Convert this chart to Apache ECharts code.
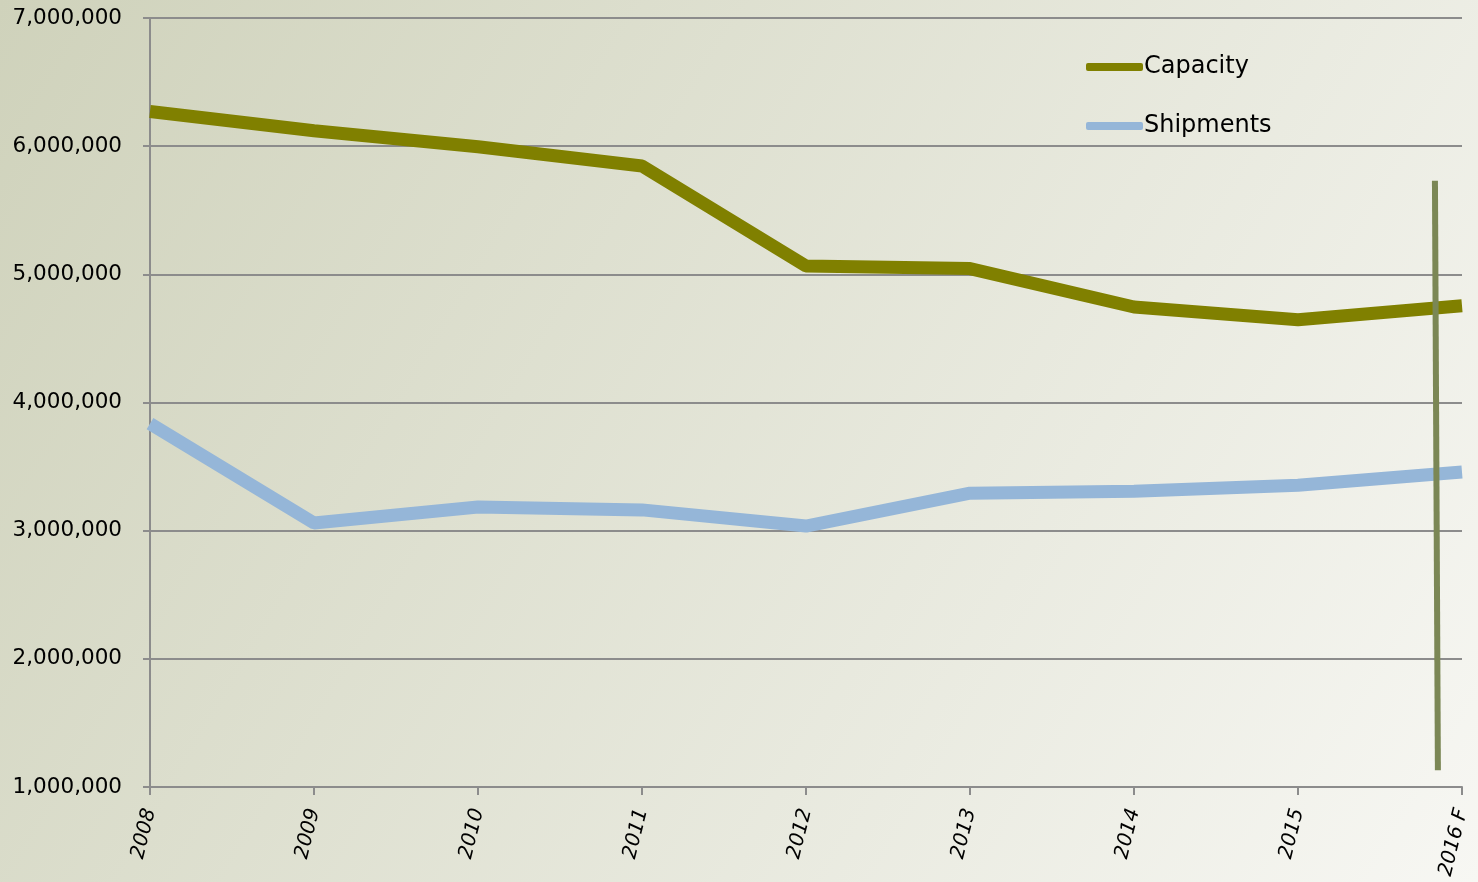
<!DOCTYPE html>
<html>
<head>
<meta charset="utf-8">
<script src="https://cdn.jsdelivr.net/npm/echarts@6/dist/echarts.min.js"></script>
<style>
html,body{margin:0;padding:0;}
#chart{width:1478px;height:882px;}
</style>
</head>
<body>
<div id="chart"></div>
<script>
const categories = ['2008','2009','2010','2011','2012','2013','2014','2015','2016 F'];
const capacity = [6270000, 6120000, 5995000, 5845000, 5065000, 5045000, 4745000, 4645000, 4755000];
const shipments = [3835000, 3060000, 3185000, 3162000, 3036000, 3292000, 3308000, 3355000, 3458000];
// forecast divider line, in (category position, value) coordinates
const dividerLine = [[7.835, 5730000], [7.853, 1130000]];
const yTicks = {min: 1000000, max: 7000000, interval: 1000000};

const chart = echarts.init(document.getElementById('chart'));
const fontFamily = '"DejaVu Sans", Verdana, sans-serif';
chart.setOption({
  backgroundColor: {
    type: 'linear', x: 0, y: 0, x2: 1, y2: 1,
    colorStops: [{offset: 0, color: '#cfd2bb'}, {offset: 1, color: '#f7f7f3'}]
  },
  animation: false,
  textStyle: {fontFamily: fontFamily},
  grid: {left: 150, right: 16, top: 18, bottom: 95},
  legend: {
    orient: 'vertical',
    left: 1081,
    top: 50,
    itemWidth: 57,
    itemHeight: 8,
    itemGap: 35,
    icon: 'roundRect',
    textStyle: {fontSize: 24, color: '#000', fontFamily: fontFamily, padding: [0,0,0,-4]},
    data: ['Capacity', 'Shipments']
  },
  xAxis: [{
    type: 'category',
    data: categories,
    boundaryGap: false,
    axisLine: {lineStyle: {color: '#8c8c8c', width: 2}},
    axisTick: {show: true, length: 8, lineStyle: {color: '#8c8c8c', width: 2}},
    axisLabel: {rotate: 76, fontSize: 20, fontStyle: 'italic', color: '#000', margin: 22, fontFamily: fontFamily},
    splitLine: {show: false}
  }, {
    type: 'value', min: 0, max: 8, show: false
  }],
  yAxis: {
    type: 'value',
    min: yTicks.min, max: yTicks.max, interval: yTicks.interval,
    axisLine: {show: true, lineStyle: {color: '#8c8c8c', width: 2}},
    axisTick: {show: true, length: 7, lineStyle: {color: '#8c8c8c', width: 2}},
    axisLabel: {
      fontSize: 21.5, color: '#000', margin: 28, fontFamily: fontFamily,
      formatter: v => v.toLocaleString('en-US')
    },
    splitLine: {show: true, lineStyle: {color: '#8c8c8c', width: 2}}
  },
  series: [{
    name: 'Capacity', type: 'line', data: capacity,
    showSymbol: false, symbol: 'none',
    lineStyle: {color: '#808000', width: 13},
    itemStyle: {color: '#808000'}
  }, {
    name: 'Shipments', type: 'line', data: shipments,
    showSymbol: false, symbol: 'none',
    lineStyle: {color: '#95b6d8', width: 13},
    itemStyle: {color: '#95b6d8'}
  }, {
    name: 'divider', type: 'line', xAxisIndex: 1, yAxisIndex: 0,
    data: dividerLine, showSymbol: false, symbol: 'none',
    lineStyle: {color: '#7b8755', width: 6},
    silent: true
  }]
});
</script>
</body>
</html>
